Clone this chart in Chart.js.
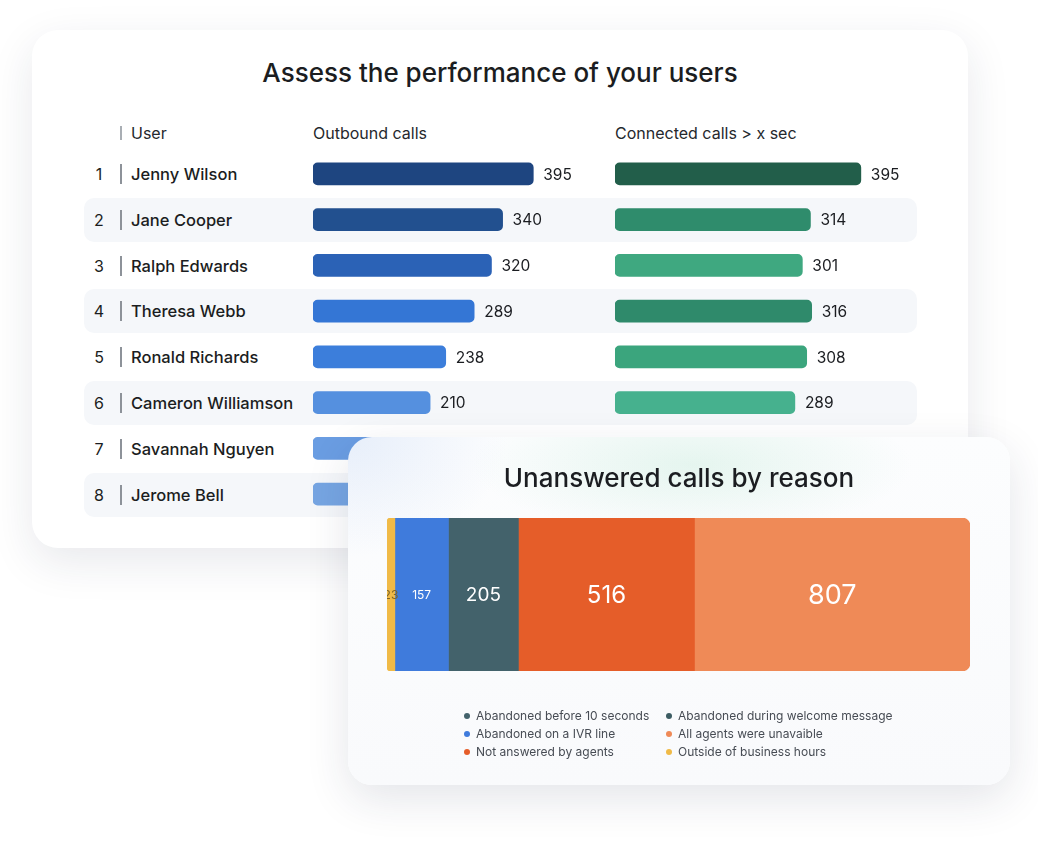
<!DOCTYPE html>
<html>
<head>
<meta charset="utf-8">
<script src="https://cdn.jsdelivr.net/npm/chart.js@4.4.1/dist/chart.umd.min.js"></script>
<style>
  body{margin:0;width:1038px;height:844px;background:#fff;font-family:Inter,"Open Sans",sans-serif;position:relative;overflow:hidden;color:#1b1d21}
  .abs{position:absolute}
  .card1{left:32px;top:30px;width:936px;height:518px;background:#fff;border-radius:26px;box-shadow:0 14px 44px rgba(30,40,70,.10)}
  .title{font-weight:500;text-align:center;white-space:nowrap}
  .hdr{top:123px;font-size:16px;line-height:20px;color:#25282d}
  .stripe{left:84px;width:833px;height:44px;border-radius:10px;background:#f5f7fa}
  .num{width:30px;text-align:center;font-size:16px;line-height:20px}
  .sep{width:1.5px;background:#8d9299}
  .name{font-size:16.5px;line-height:20px;font-weight:500;white-space:nowrap}
  .card2{left:348px;top:437px;width:662px;height:348px;border-radius:24px;
    background:radial-gradient(ellipse 220px 70px at 52% 8%,rgba(170,225,200,.28),rgba(255,255,255,0)),
               radial-gradient(ellipse 160px 120px at 0% 0%,rgba(205,220,245,.45),rgba(255,255,255,0)),
               linear-gradient(#fcfdfe,#f9fafc);
    box-shadow:0 14px 44px rgba(30,40,70,.12)}
  .leg{font-size:12px;line-height:18px;color:#474c54;white-space:nowrap}
  .dot{display:inline-block;width:6px;height:6px;border-radius:50%;margin-right:6px;vertical-align:1px}
</style>
</head>
<body>
<div class="abs card1"></div>
<div class="abs title" style="left:32px;width:936px;top:58px;font-size:26px;line-height:30px">Assess the performance of your users</div>
<div class="abs sep" style="left:120px;top:126px;height:14px;background:#a9aeb4"></div>
<div class="abs hdr" style="left:131px">User</div>
<div class="abs hdr" style="left:313px">Outbound calls</div>
<div class="abs hdr" style="left:615px">Connected calls &gt; x sec</div>
<div id="rows"></div>
<canvas id="outbound" class="abs" style="left:313px;top:151px" width="290" height="366"></canvas>
<canvas id="connected" class="abs" style="left:615px;top:151px" width="300" height="366"></canvas>

<div class="abs card2"></div>
<div class="abs title" style="left:348px;width:662px;top:462px;font-size:26px;line-height:32px">Unanswered calls by reason</div>
<canvas id="reasons" class="abs" style="left:387px;top:518px" width="583" height="153"></canvas>
<div id="legend"></div>

<script>
// users table
var ranks = [1, 2, 3, 4, 5, 6, 7, 8];
var users = ['Jenny Wilson', 'Jane Cooper', 'Ralph Edwards', 'Theresa Webb', 'Ronald Richards', 'Cameron Williamson', 'Savannah Nguyen', 'Jerome Bell'];
var outboundCalls = [395, 340, 320, 289, 238, 210, 196, 182];
var connectedCalls = [395, 314, 301, 316, 308, 289, 270, 251];

// unanswered calls
var reasons = ['Outside of business hours', 'Abandoned on a IVR line', 'Abandoned before 10 seconds', 'Not answered by agents', 'All agents were unavaible'];
var reasonCalls = [23, 157, 205, 516, 807];
var legendLabels = ['Abandoned before 10 seconds', 'Abandoned during welcome message', 'Abandoned on a IVR line', 'All agents were unavaible', 'Not answered by agents', 'Outside of business hours'];

var outboundColors = ['#1e4580', '#22508f', '#2b62b6', '#3476d5', '#3c7edb', '#5590df', '#6a9de2', '#76a5e2'];
var connectedColors = ['#225e4a', '#2f8c6c', '#3fa880', '#2f8a6b', '#3ba57d', '#46b18e', '#4db692', '#52b995'];
var reasonColors = ['#f0ba47', '#3f7bdc', '#43626b', '#e55d29', '#ef8a57'];
var legendColors = ['#43626b', '#3c5c62', '#3f7bdc', '#ef8a57', '#e55d29', '#f0ba47'];

var rowH = 45.8, rowTop = 151;
var rowsHtml = '';
for (let i = 0; i < users.length; i++) {
    var t = rowTop + i * rowH;
    if (i % 2 == 1) rowsHtml += '<div class="abs stripe" style="top:' + (t + 1) + 'px"></div>';
    rowsHtml += '<div class="abs num" style="left:84px;top:' + (t + 13) + 'px">' + ranks[i] + '</div>';
    rowsHtml += '<div class="abs sep" style="left:120px;top:' + (t + 13) + 'px;height:20px"></div>';
    rowsHtml += '<div class="abs name" style="left:131px;top:' + (t + 13) + 'px">' + users[i] + '</div>';
}
document.getElementById('rows').innerHTML = rowsHtml;

var legHtml = '';
for (let i = 0; i < legendLabels.length; i++) {
    var col = i % 2, row = Math.floor(i / 2);
    legHtml += '<div class="abs leg" style="left:' + (col ? 666 : 464) + 'px;top:' + (707 + row * 18) + 'px"><span class="dot" style="background:' + legendColors[i] + '"></span>' + legendLabels[i] + '</div>';
}
document.getElementById('legend').innerHTML = legHtml;

// value text right of each bar
var valueLabels = {
    id: 'valueLabels',
    afterDatasetsDraw: function(chart) {
        var ctx = chart.ctx;
        var ds = chart.data.datasets[0];
        chart.getDatasetMeta(0).data.forEach(function(bar, i) {
            ctx.save();
            ctx.font = '15.5px Inter';
            ctx.fillStyle = '#1b1d21';
            ctx.textBaseline = 'middle';
            ctx.fillText(ds.data[i], bar.x + 10, bar.y + 1);
            ctx.restore();
        });
    }
};

function userChart(id, values, colors, max) {
    return new Chart(document.getElementById(id), {
        type: 'bar',
        data: {
            labels: users,
            datasets: [{
                data: values,
                backgroundColor: colors,
                barThickness: 22,
                borderRadius: 5,
                borderSkipped: false
            }]
        },
        options: {
            indexAxis: 'y',
            responsive: false,
            animation: false,
            layout: { padding: 0 },
            plugins: { legend: { display: false }, tooltip: { enabled: false } },
            scales: {
                x: { display: false, min: 0, max: max },
                y: { display: false }
            }
        },
        plugins: [valueLabels]
    });
}
userChart('outbound', outboundCalls, outboundColors, 520);
userChart('connected', connectedCalls, connectedColors, 482);

// numbers inside the stacked segments
var segmentLabels = {
    id: 'segmentLabels',
    afterDatasetsDraw: function(chart) {
        var ctx = chart.ctx;
        chart.data.datasets.forEach(function(ds, d) {
            var bar = chart.getDatasetMeta(d).data[0];
            ctx.save();
            ctx.font = ds.labelSize + 'px Inter';
            ctx.fillStyle = ds.labelColor;
            ctx.textAlign = 'center';
            ctx.textBaseline = 'middle';
            ctx.fillText(ds.data[0], (bar.x + bar.base) / 2, bar.y + 1);
            ctx.restore();
        });
    }
};

var sizes = [12, 12, 19, 24, 27];
var labelColors = ['#7d6427', '#fff', '#fff', '#fff', '#fff'];
var last = reasonCalls.length - 1;
new Chart(document.getElementById('reasons'), {
    type: 'bar',
    data: {
        labels: ['Unanswered calls'],
        datasets: reasonCalls.map(function(v, i) {
            return {
                label: reasons[i],
                data: [v],
                backgroundColor: reasonColors[i],
                borderWidth: 0,
                borderSkipped: false,
                borderRadius: i == 0 ? { topLeft: 8, bottomLeft: 8, topRight: 0, bottomRight: 0 }
                    : i == last ? { topLeft: 0, bottomLeft: 0, topRight: 8, bottomRight: 8 } : 0,
                barPercentage: 1,
                categoryPercentage: 1,
                labelSize: sizes[i],
                labelColor: labelColors[i]
            };
        })
    },
    options: {
        indexAxis: 'y',
        responsive: false,
        animation: false,
        layout: { padding: 0 },
        plugins: { legend: { display: false }, tooltip: { enabled: false } },
        scales: {
            x: { display: false, stacked: true, min: 0, max: 1708 },
            y: { display: false, stacked: true }
        }
    },
    plugins: [segmentLabels]
});
</script>
</body>
</html>
